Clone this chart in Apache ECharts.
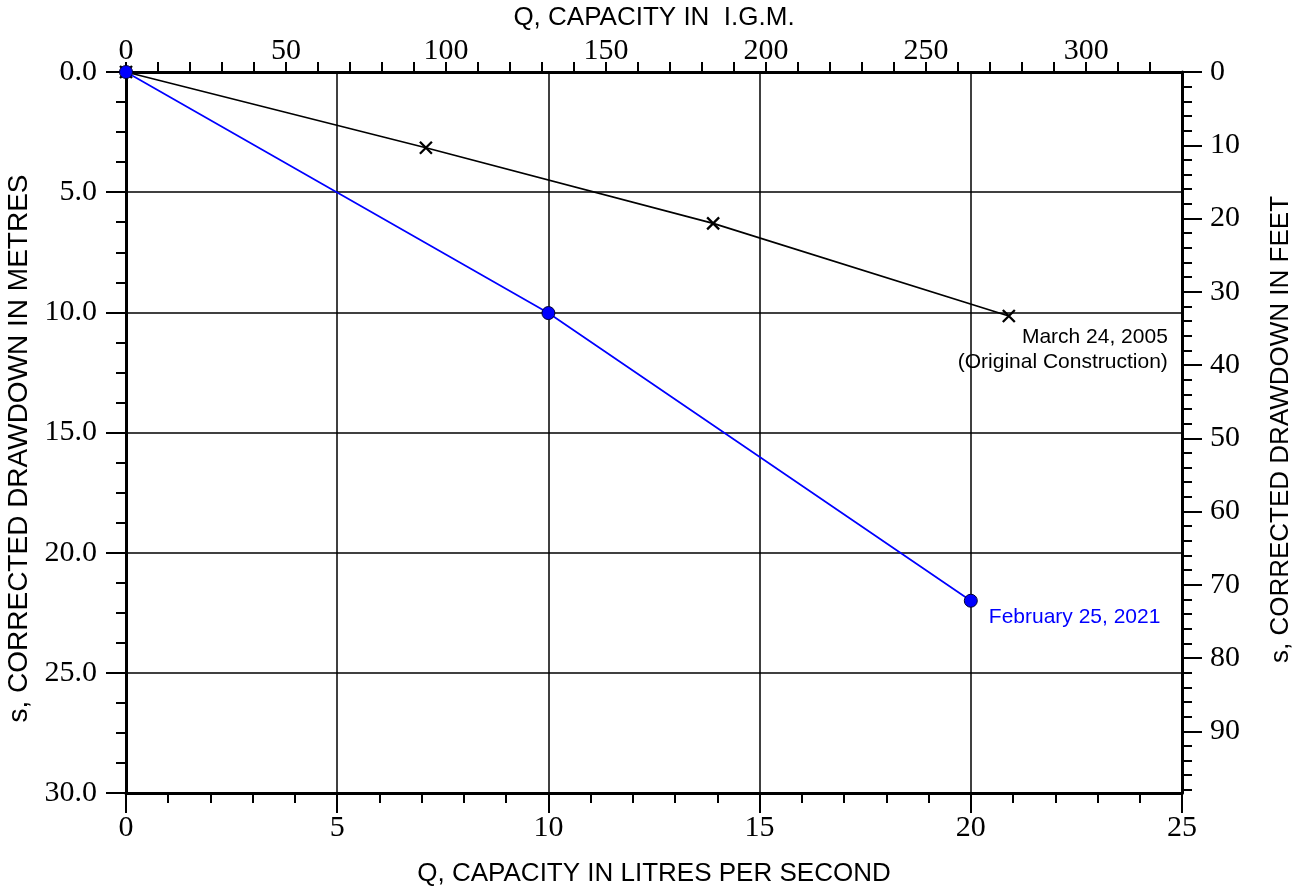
<!DOCTYPE html>
<html>
<head>
<meta charset="utf-8">
<script src="https://cdn.jsdelivr.net/npm/echarts@6/dist/echarts.min.js"></script>
<style>
html,body{margin:0;padding:0;background:#fff;}
#chart{width:1305px;height:886px;}
</style>
</head>
<body>
<div id="chart"></div>
<script>
// ---- data ----
var origQ = [0, 7.1, 13.9, 20.9];          // L/s
var origS = [0, 3.15, 6.3, 10.15];         // m
var newQ = [0, 10, 20];                    // L/s
var newS = [0, 10.03, 22.0];               // m
var origLabel = 'March 24, 2005\n(Original Construction)';
var newLabel = 'February 25, 2021';

var bottomMax = 25, leftMax = 30;
var LPS_TO_IGM = 13.198;   // imperial gal/min per L/s
var M_PER_FT = 0.3048;
var topMajorLabels = [0, 50, 100, 150, 200, 250, 300];
var topTicks = [0,10,20,30,40,50,60,70,80,90,100,110,120,130,140,150,160,170,180,190,200,210,220,230,240,250,260,270,280,290,300,310,320];
var rightMajor = [0,10,20,30,40,50,60,70,80,90];
var rightMinor = [2,4,6,8,12,14,16,18,22,24,26,28,32,34,36,38,42,44,46,48,52,54,56,58,62,64,66,68,72,74,76,78,82,84,86,88,92,94,96,98];

function buildData(xs, ys, lab) {
  return xs.map(function (x, i) {
    var d = { value: [x, ys[i]] };
    if (i === xs.length - 1) d.label = lab;
    return d;
  });
}

var serif = 'Liberation Serif';
var sans = 'Liberation Sans';
var axisLineStyle = { color: '#000', width: 3 };
var tickStyle = { color: '#000', width: 2 };
var tickFont = 30;

var chart = echarts.init(document.getElementById('chart'), null, { renderer: 'canvas' });
chart.setOption({
  animation: false,
  backgroundColor: '#fff',
  grid: { left: 126, right: 123, top: 72, bottom: 93, containLabel: false, outerBoundsMode: 'none' },
  xAxis: [
    {
      type: 'value', position: 'bottom', min: 0, max: bottomMax, interval: 5,
      name: 'Q, CAPACITY IN LITRES PER SECOND', nameLocation: 'middle', nameGap: 68,
      nameTextStyle: { fontFamily: sans, fontSize: 26, color: '#000' },
      axisLine: { onZero: false, lineStyle: axisLineStyle },
      axisTick: { length: 20, lineStyle: tickStyle },
      minorTick: { show: true, splitNumber: 5, length: 10, lineStyle: tickStyle },
      axisLabel: { margin: 20, fontFamily: serif, fontSize: tickFont, color: '#000' },
      splitLine: { show: true, lineStyle: { color: '#000', width: 1.5 } }
    },
    {
      type: 'value', position: 'top', min: 0, max: bottomMax * LPS_TO_IGM,
      name: 'Q, CAPACITY IN  I.G.M.', nameLocation: 'middle', nameGap: 29,
      nameTextStyle: { fontFamily: sans, fontSize: 26, color: '#000' },
      axisLine: { onZero: false, lineStyle: axisLineStyle },
      axisTick: { length: 10, lineStyle: tickStyle, customValues: topTicks },
      axisLabel: { margin: 6, fontFamily: serif, fontSize: tickFont, color: '#000', customValues: topMajorLabels },
      splitLine: { show: false }
    }
  ],
  yAxis: [
    {
      type: 'value', position: 'left', inverse: true, min: 0, max: leftMax, interval: 5,
      name: 's, CORRECTED DRAWDOWN IN METRES', nameLocation: 'middle', nameGap: 91, nameRotate: 90,
      nameTextStyle: { fontFamily: sans, fontSize: 28, color: '#000', padding: [0, 32, 0, 0] },
      axisLine: { onZero: false, lineStyle: axisLineStyle },
      axisTick: { length: 20, lineStyle: tickStyle },
      minorTick: { show: true, splitNumber: 4, length: 10, lineStyle: tickStyle },
      axisLabel: { margin: 29, fontFamily: serif, fontSize: tickFont, color: '#000',
        formatter: function (v) { return v.toFixed(1); } },
      splitLine: { show: true, lineStyle: { color: '#000', width: 1.5 } }
    },
    {
      type: 'value', position: 'right', inverse: true, min: 0, max: leftMax / M_PER_FT,
      name: 's, CORRECTED DRAWDOWN IN FEET', nameLocation: 'middle', nameGap: 86, nameRotate: 90,
      nameTextStyle: { fontFamily: sans, fontSize: 26, color: '#000', padding: [0, 0, 0, 6] },
      axisLine: { onZero: false, lineStyle: axisLineStyle },
      axisTick: { length: 20, lineStyle: tickStyle, customValues: rightMajor },
      axisLabel: { margin: 28, fontFamily: serif, fontSize: tickFont, color: '#000', customValues: rightMajor },
      splitLine: { show: false }
    },
    {
      type: 'value', position: 'right', inverse: true, min: 0, max: leftMax / M_PER_FT,
      axisLine: { show: false, onZero: false },
      axisTick: { length: 10, lineStyle: tickStyle, customValues: rightMinor },
      axisLabel: { show: false },
      splitLine: { show: false }
    }
  ],
  series: [
    {
      type: 'line', xAxisIndex: 0, yAxisIndex: 0,
      data: buildData(origQ, origS, {
        show: true, formatter: origLabel, position: 'inside', align: 'right', verticalAlign: 'middle',
        offset: [159, 34], fontFamily: sans, fontSize: 21, lineHeight: 25, color: '#000'
      }),
      lineStyle: { color: '#000', width: 1.7 },
      symbol: 'path://M0,0L10,10M10,0L0,10', symbolSize: 12,
      itemStyle: { color: 'rgba(0,0,0,0)', borderColor: '#000', borderWidth: 2.3 },
      z: 3
    },
    {
      type: 'line', xAxisIndex: 0, yAxisIndex: 0,
      data: buildData(newQ, newS, {
        show: true, formatter: newLabel, position: 'inside', align: 'left', verticalAlign: 'middle',
        offset: [18, 16], fontFamily: sans, fontSize: 21, color: '#0000ff'
      }),
      lineStyle: { color: '#0000ff', width: 1.7 },
      symbol: 'circle', symbolSize: 13,
      itemStyle: { color: '#0000ff', borderColor: '#000033', borderWidth: 1 },
      z: 4
    }
  ]
});
</script>
</body>
</html>
